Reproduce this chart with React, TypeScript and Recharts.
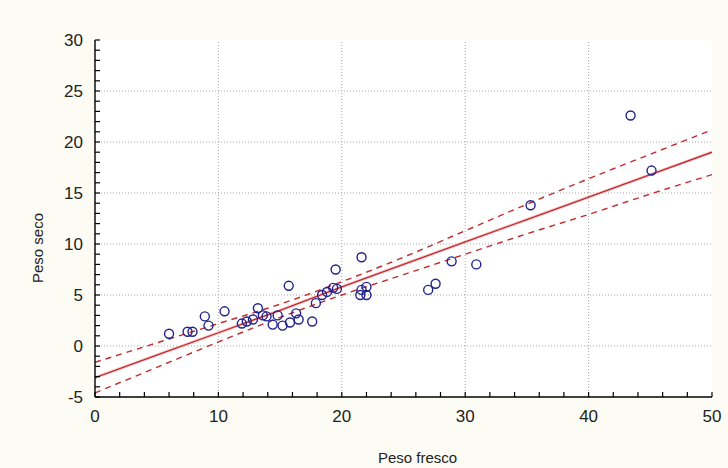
import React from 'react';
import { ComposedChart, Scatter, Line, XAxis, YAxis, ReferenceLine } from 'recharts';

// Values (Peso fresco vs Peso seco)
const freshWeight = [6.0, 7.5, 7.9, 8.9, 9.2, 10.5, 11.9, 12.3, 12.8, 13.2, 13.6, 13.9, 14.4, 14.8, 15.2, 15.7, 15.8, 16.3, 16.5, 17.6, 17.9, 18.4, 18.8, 19.3, 19.5, 19.6, 21.6, 21.5, 21.6, 22.0, 22.0, 27.0, 27.6, 28.9, 30.9, 35.3, 43.4, 45.1];
const dryWeight = [1.2, 1.4, 1.4, 2.9, 2.0, 3.4, 2.2, 2.4, 2.6, 3.7, 3.0, 2.9, 2.1, 3.0, 2.0, 5.9, 2.3, 3.2, 2.6, 2.4, 4.2, 5.0, 5.3, 5.7, 7.5, 5.6, 8.7, 5.0, 5.5, 5.8, 5.0, 5.5, 6.1, 8.3, 8.0, 13.8, 22.6, 17.2];

// Fitted line and 95% band, read at every 5 units of x
const bandX = [0, 5, 10, 15, 20, 25, 30, 35, 40, 45, 50];
const fitY = [-3.1, -0.9, 1.3, 3.5, 5.8, 8.0, 10.2, 12.4, 14.6, 16.8, 19.0];
const upperY = [-1.6, 0.3, 2.2, 4.1, 6.3, 8.7, 11.3, 13.9, 16.4, 18.8, 21.2];
const lowerY = [-4.6, -2.1, 0.4, 2.8, 5.0, 7.0, 9.0, 11.0, 12.9, 14.9, 16.8];

const xTicks = [0, 2, 4, 6, 8, 10, 12, 14, 16, 18, 20, 22, 24, 26, 28, 30, 32, 34, 36, 38, 40, 42, 44, 46, 48, 50];
const yTicks = [-5, -4, -3, -2, -1, 0, 1, 2, 3, 4, 5, 6, 7, 8, 9, 10, 11, 12, 13, 14, 15, 16, 17, 18, 19, 20, 21, 22, 23, 24, 25, 26, 27, 28, 29, 30];
const xGrid = [10, 20, 30, 40];
const yGrid = [0, 5, 10, 15, 20, 25];

const points = freshWeight.map((x, i) => ({ x, y: dryWeight[i] }));
const band = bandX.map((x, i) => ({ x, fit: fitY[i], upper: upperY[i], lower: lowerY[i] }));

const FONT = 'Arial, "Liberation Sans", sans-serif';
const RED = '#c42a2f';
const BLUE = '#22228c';

const BottomTick = ({ x, y, payload }: any) => (
  <g>
    <line x1={x} y1={y} x2={x} y2={y - 5} stroke="#000" strokeWidth={1.2} />
    {payload.value % 10 === 0 && (
      <text x={x} y={y + 25} textAnchor="middle" fontSize={17} fill="#222" fontFamily={FONT}>
        {payload.value}
      </text>
    )}
  </g>
);

const TopTick = ({ x, y }: any) => (
  <line x1={x} y1={y} x2={x} y2={y + 5} stroke="#000" strokeWidth={1.2} />
);

const LeftTick = ({ x, y, payload }: any) => (
  <g>
    <line x1={x} y1={y} x2={x + 5} y2={y} stroke="#000" strokeWidth={1.2} />
    {payload.value % 5 === 0 && (
      <text x={x - 12} y={y + 6} textAnchor="end" fontSize={17} fill="#222" fontFamily={FONT}>
        {payload.value}
      </text>
    )}
  </g>
);

const RightTick = ({ x, y }: any) => (
  <line x1={x} y1={y} x2={x - 5} y2={y} stroke="#000" strokeWidth={1.2} />
);

const Circle = ({ cx, cy }: any) => (
  <circle cx={cx} cy={cy} r={4.5} fill="none" stroke={BLUE} strokeWidth={1.4} />
);

const XTitle = ({ viewBox }: any) => (
  <text x={viewBox.x + viewBox.width / 2 + 14} y={463} textAnchor="middle" fontSize={15} fill="#222" fontFamily={FONT}>
    Peso fresco
  </text>
);

const YTitle = () => (
  <text x={43} y={248} transform="rotate(-90 43 248)" textAnchor="middle" fontSize={15} fill="#222" fontFamily={FONT}>
    Peso seco
  </text>
);

export default function App() {
  return (
    <div style={{ width: 728, height: 468, background: '#fdfcf4', position: 'relative' }}>
      <style>{'body{margin:0}'}</style>
      <ComposedChart
        width={728}
        height={468}
        margin={{ top: 40, right: 16, bottom: 0, left: 0 }}
        style={{ fontFamily: FONT }}
      >
        <rect x={95} y={40} width={617} height={357} fill="#ffffff" />
        <XAxis
          dataKey="x"
          type="number"
          domain={[0, 50]}
          ticks={xTicks}
          interval={0}
          height={71}
          tickSize={0}
          tickMargin={0}
          tickLine={false}
          tick={<BottomTick />}
          axisLine={{ stroke: '#000', strokeWidth: 1.4 }}
          allowDataOverflow
          label={<XTitle />}
        />
        <XAxis
          xAxisId="top"
          orientation="top"
          dataKey="x"
          type="number"
          domain={[0, 50]}
          ticks={xTicks}
          interval={0}
          height={0}
          tickSize={0}
          tickMargin={0}
          tickLine={false}
          tick={<TopTick />}
          axisLine={{ stroke: '#000', strokeWidth: 1.4 }}
        />
        <YAxis
          type="number"
          domain={[-5, 30]}
          ticks={yTicks}
          interval={0}
          width={95}
          tickSize={0}
          tickMargin={0}
          tickLine={false}
          tick={<LeftTick />}
          axisLine={{ stroke: '#000', strokeWidth: 1.4 }}
          allowDataOverflow
          label={<YTitle />}
        />
        <YAxis
          yAxisId="right"
          orientation="right"
          type="number"
          domain={[-5, 30]}
          ticks={yTicks}
          interval={0}
          width={0}
          tickSize={0}
          tickMargin={0}
          tickLine={false}
          tick={<RightTick />}
          axisLine={{ stroke: '#000', strokeWidth: 1.4 }}
        />
        {xGrid.map((v) => (
          <ReferenceLine key={'gx' + v} x={v} stroke="#a8a8a8" strokeDasharray="1 2" />
        ))}
        {yGrid.map((v) => (
          <ReferenceLine key={'gy' + v} y={v} stroke="#a8a8a8" strokeDasharray="1 2" />
        ))}
        <Line data={band} dataKey="fit" type="linear" stroke="#f6c8c8" strokeWidth={3} dot={false} isAnimationActive={false} />
        <Line data={band} dataKey="fit" type="linear" stroke={RED} strokeWidth={1.3} dot={false} isAnimationActive={false} />
        <Line data={band} dataKey="upper" type="monotone" stroke={RED} strokeWidth={1.4} strokeDasharray="6 5" dot={false} isAnimationActive={false} />
        <Line data={band} dataKey="lower" type="monotone" stroke={RED} strokeWidth={1.4} strokeDasharray="6 5" dot={false} isAnimationActive={false} />
        <Scatter data={points} dataKey="y" shape={<Circle />} isAnimationActive={false} />
      </ComposedChart>
    </div>
  );
}
